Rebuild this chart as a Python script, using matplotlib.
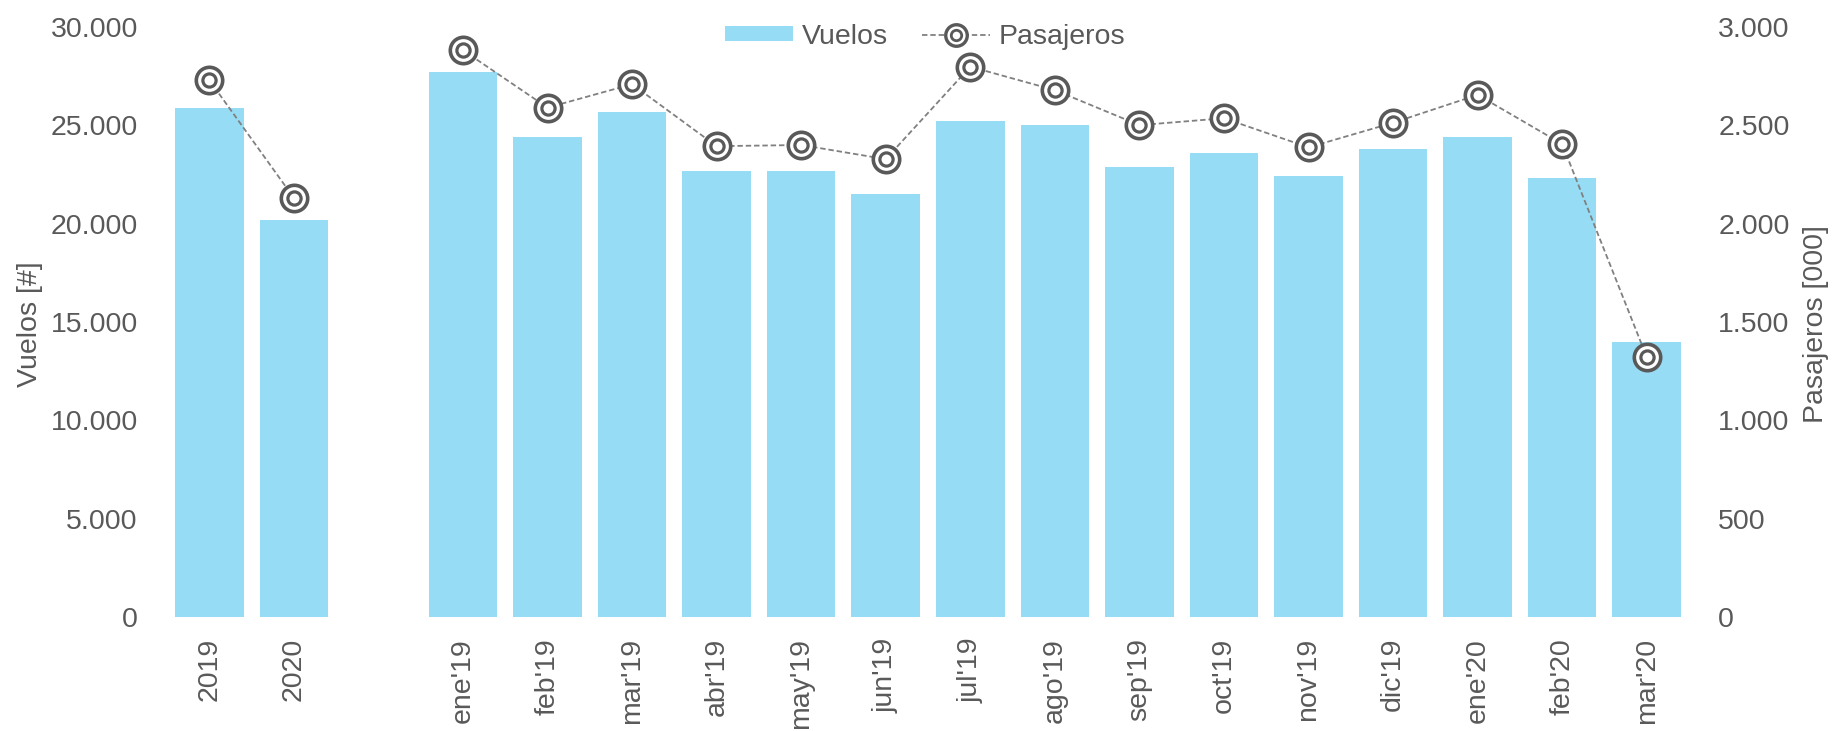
import numpy as np
import matplotlib
matplotlib.use("Agg")
import matplotlib.pyplot as plt
from matplotlib.ticker import FuncFormatter, MultipleLocator
from matplotlib.lines import Line2D
from matplotlib.patches import Patch
from matplotlib.legend_handler import HandlerTuple

# Annual totals
years = ["2019", "2020"]
vuelos_anual = [25900, 20200]
pasajeros_anual = [2730, 2131]

# Monthly figures
meses = ["ene'19", "feb'19", "mar'19", "abr'19", "may'19", "jun'19", "jul'19",
         "ago'19", "sep'19", "oct'19", "nov'19", "dic'19", "ene'20", "feb'20",
         "mar'20"]
vuelos_mes = [27700, 24400, 25700, 22700, 22700, 21500, 25200, 25000, 22900,
              23600, 22400, 23800, 24400, 22300, 14000]
pasajeros_mes = [2882, 2590, 2709, 2394, 2400, 2328, 2798, 2679, 2501, 2536,
                 2388, 2513, 2655, 2405, 1322]

TXT = "#595959"
BAR = "#97DCF5"
MK = "#595959"
LN = "#808080"
FS = 20.5

plt.rcParams["font.family"] = ["Liberation Sans", "DejaVu Sans"]

fig = plt.figure(figsize=(18.35, 7.31), dpi=100)
ax = fig.add_axes([167 / 1835, 1 - 617 / 731, (1689 - 167) / 1835, (617 - 27) / 731])
ax2 = ax.twinx()

x_anual = np.arange(len(years))
x_mes = np.arange(len(meses)) + len(years) + 1

ax.bar(x_anual, vuelos_anual, width=0.81, color=BAR, zorder=1)
ax.bar(x_mes, vuelos_mes, width=0.81, color=BAR, zorder=1)


def draw_pasajeros(axis, x, y):
    axis.plot(x, y, color=LN, lw=1.3, ls=(0, (3, 1.6)), zorder=2)
    axis.plot(x, y, ls="none", marker="o", ms=19, mfc="white", mec=MK, mew=2.6, zorder=3)
    axis.plot(x, y, ls="none", marker="o", ms=9.5, mfc="white", mec=MK, mew=2.3, zorder=4)


draw_pasajeros(ax2, x_anual, pasajeros_anual)
draw_pasajeros(ax2, x_mes, pasajeros_mes)

ax.set_xlim(-0.5, len(years) + len(meses) + 0.5)
ax.set_ylim(0, 30000)
ax2.set_ylim(0, 3000)
ax.yaxis.set_major_locator(MultipleLocator(5000))
ax2.yaxis.set_major_locator(MultipleLocator(500))


def miles(v, pos):
    return f"{int(round(v)):,}".replace(",", ".")


ax.yaxis.set_major_formatter(FuncFormatter(miles))
ax2.yaxis.set_major_formatter(FuncFormatter(miles))

ax.set_xticks(list(x_anual) + list(x_mes))
ax.set_xticklabels(years + meses, rotation=90)

for a in (ax, ax2):
    for s in a.spines.values():
        s.set_visible(False)
ax.tick_params(axis="x", length=0, pad=15, labelsize=FS, labelcolor=TXT)
ax.tick_params(axis="y", length=0, pad=21, labelsize=FS, labelcolor=TXT)
ax2.tick_params(axis="y", length=0, pad=21, labelsize=FS, labelcolor=TXT)

ax.set_ylabel("Vuelos [#]", fontsize=FS, color=TXT)
ax2.set_ylabel("Pasajeros [000]", fontsize=FS, color=TXT)
ax.yaxis.set_label_coords(-0.0815, 0.497)
ax2.yaxis.set_label_coords(1.075, 0.496)

h_bar = Patch(facecolor=BAR, edgecolor="none")
h_line = Line2D([], [], color=LN, lw=1.3, ls=(0, (3, 1.6)))
h_out = Line2D([], [], ls="none", marker="o", ms=15.5, mfc="white", mec=MK, mew=2.4)
h_in = Line2D([], [], ls="none", marker="o", ms=7.5, mfc="white", mec=MK, mew=2.0)
fig.legend([h_bar, (h_line, h_out, h_in)], ["Vuelos", "Pasajeros"],
           handler_map={tuple: HandlerTuple(ndivide=1, pad=0)},
           loc="center", bbox_to_anchor=(925 / 1835, 1 - 36.5 / 731), ncol=2,
           frameon=False, fontsize=FS, labelcolor=TXT, handlelength=2.4,
           handleheight=0.46, columnspacing=1.2, handletextpad=0.3)

fig.savefig("out.png", dpi=100)
